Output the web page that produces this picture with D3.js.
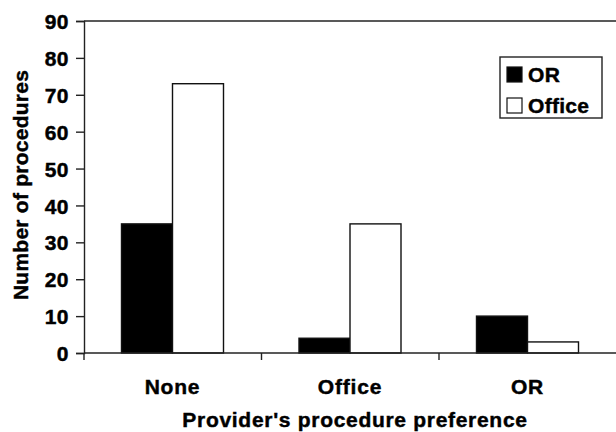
<!DOCTYPE html>
<html>
<head>
	<title>Procedures by provider preference</title>
	<script src="https://cdnjs.cloudflare.com/ajax/libs/d3/7.8.5/d3.min.js"></script>
	<style>
		body { margin: 0; background: #fff; }
		/* the scan is heavy, so thicken the glyphs a touch */
		text { font-family: "Liberation Sans", Arial, sans-serif; font-weight: bold; fill: #000; stroke: #000; stroke-width: 0.45px; }
	</style>
</head>
<body>
	<svg id="chart" width="616" height="432"></svg>
	<script type="text/javascript">
		// values
		const categories = ["None", "Office", "OR"];
		const seriesNames = ["OR", "Office"];
		const orValues = [35, 4, 10];
		const officeValues = [73, 35, 3];
		const yTicks = [0, 10, 20, 30, 40, 50, 60, 70, 80, 90];

		const svg = d3.select("#chart");
		const plotLeft = 84, plotRight = 616.5, plotTop = 21, plotBottom = 353;

		const x = d3.scaleBand().domain(categories).range([plotLeft, plotRight]).paddingInner(0).paddingOuter(0);
		const inner = d3.scaleBand().domain(seriesNames).range([37.5, 37.5 + 102]);
		const y = d3.scaleLinear().domain([0, 90]).range([plotBottom, plotTop]);

		const rows = categories.map((c, i) => ({ cat: c, vals: [orValues[i], officeValues[i]] }));

		// bars
		svg.append("g").selectAll("g")
			.data(rows)
			.join("g")
				.attr("transform", d => "translate(" + x(d.cat) + ",0)")
			.selectAll("rect")
			.data(d => d.vals.map((v, j) => ({ name: seriesNames[j], v: v })))
			.join("rect")
				.attr("x", d => inner(d.name))
				.attr("width", inner.bandwidth())
				.attr("y", d => y(d.v))
				.attr("height", d => y(0) - y(d.v))
				.attr("fill", d => d.name === "OR" ? "#000" : "#fff")
				.attr("stroke", "#111")
				.attr("stroke-width", 1.4);

		// top frame line
		svg.append("line")
			.attr("x1", plotLeft).attr("x2", 616).attr("y1", y(90)).attr("y2", y(90))
			.attr("stroke", "#222").attr("stroke-width", 1.4);

		// y axis
		const yAxis = svg.append("g")
			.attr("transform", "translate(" + plotLeft + ",0)")
			.call(d3.axisLeft(y).tickValues(yTicks).tickSize(8).tickPadding(7));
		yAxis.select(".domain").attr("stroke", "#222").attr("stroke-width", 1.4);
		yAxis.selectAll(".tick line").attr("stroke", "#222").attr("stroke-width", 1.4);
		yAxis.selectAll("text")
			.style("font-family", "'Liberation Sans', Arial, sans-serif")
			.style("font-weight", "bold")
			.style("font-size", "21px")
			.style("letter-spacing", "0.5px")
			.attr("dy", "0.36em");

		// x axis: ticks at band edges, labels at band centres
		const xAxisG = svg.append("g");
		xAxisG.append("line")
			.attr("x1", plotLeft).attr("x2", 616).attr("y1", plotBottom).attr("y2", plotBottom)
			.attr("stroke", "#222").attr("stroke-width", 1.4);
		xAxisG.selectAll("line.tk")
			.data(categories)
			.join("line")
				.attr("class", "tk")
				.attr("x1", d => x(d)).attr("x2", d => x(d))
				.attr("y1", plotBottom).attr("y2", plotBottom + 7)
				.attr("stroke", "#222").attr("stroke-width", 1.4);
		xAxisG.selectAll("text")
			.data(categories)
			.join("text")
				.attr("x", d => x(d) + inner("Office"))
				.attr("y", 394)
				.attr("text-anchor", "middle")
				.style("font-size", "21px")
				.style("letter-spacing", "0.8px")
				.text(d => d);

		// axis titles
		svg.append("text")
			.attr("x", 355).attr("y", 427)
			.attr("text-anchor", "middle")
			.style("font-size", "21px")
			.style("letter-spacing", "0.7px")
			.text("Provider's procedure preference");
		svg.append("text")
			.attr("transform", "translate(28,185) rotate(-90)")
			.attr("text-anchor", "middle")
			.style("font-size", "21px")
			.style("letter-spacing", "0.25px")
			.text("Number of procedures");

		// legend
		const legend = svg.append("g");
		legend.append("rect")
			.attr("x", 500).attr("y", 57).attr("width", 102).attr("height", 61)
			.attr("fill", "#fff").attr("stroke", "#222").attr("stroke-width", 1.4);
		const item = legend.selectAll("g")
			.data(seriesNames)
			.join("g")
				.attr("transform", (d, i) => "translate(507," + (67 + i * 31) + ")");
		item.append("rect")
			.attr("width", 15).attr("height", 15)
			.attr("fill", d => d === "OR" ? "#000" : "#fff")
			.attr("stroke", "#111").attr("stroke-width", 1.2);
		item.append("text")
			.attr("x", 21).attr("y", 15)
			.style("font-size", "21px")
			.style("letter-spacing", "0.3px")
			.text(d => d);
	</script>
</body>
</html>
